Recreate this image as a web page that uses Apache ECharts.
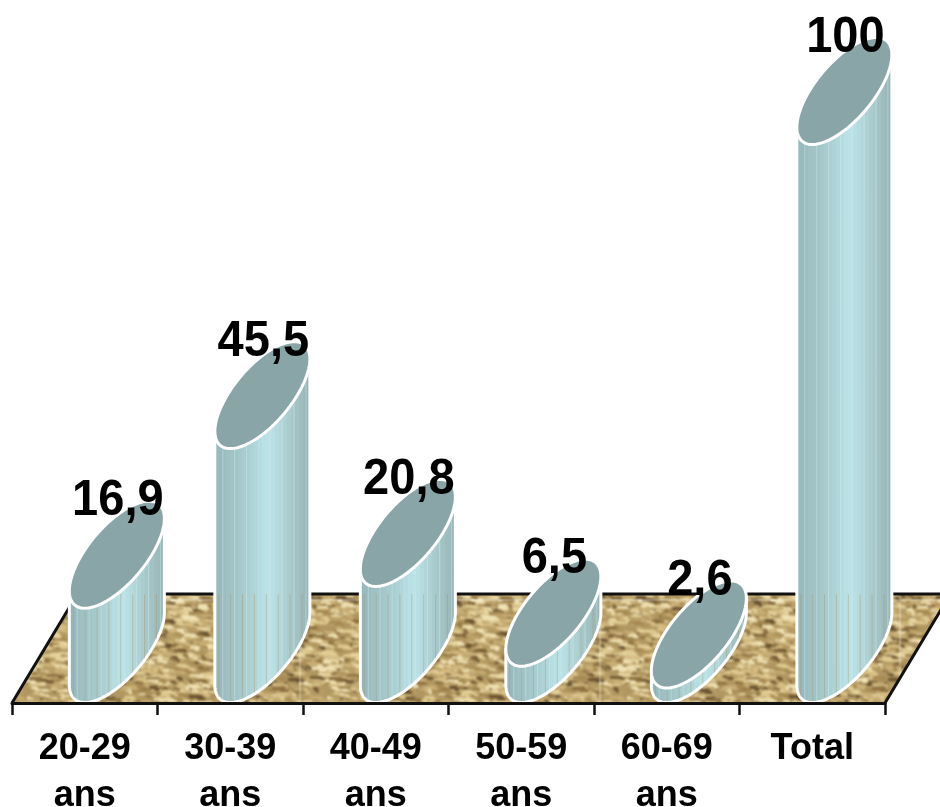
<!DOCTYPE html>
<html>
<head>
<meta charset="utf-8">
<style>html,body{margin:0;padding:0;background:#fff}#c{width:940px;height:807px}</style>
<script src="https://cdn.jsdelivr.net/npm/echarts@6/dist/echarts.min.js"></script>
</head>
<body>
<div id="c"></div>
<script>
// Age groups and their percentages
const categories = ['20-29\nans', '30-39\nans', '40-49\nans', '50-59\nans', '60-69\nans', 'Total'];
const values = [16.9, 45.5, 20.8, 6.5, 2.6, 100];

const FONT = '"Liberation Sans", Arial, sans-serif';
const FLOOR_TOP = 594, FLOOR_BOTTOM = 703, FLOOR_SHEAR = 0.6;
const ELL_H = 53.5;              // vertical half extent of a cylinder cap
const WIDTH_RATIO = 0.3265;      // half cylinder width, relative to the category band

// Small deterministic generator for the woven floor texture
let seed = 12345;
function rnd() { seed = (seed * 1664525 + 1013904223) >>> 0; return seed / 4294967296; }

function wovenTexture() {
  const S = 300, src = document.createElement('canvas');
  src.width = src.height = S;
  const g = src.getContext('2d');
  g.fillStyle = '#b09660'; g.fillRect(0, 0, S, S);
  const tones = ['#f0e2b4', '#e8d6a2', '#dfca90', '#d4bc82', '#c8ae74', '#b89e64', '#a68a52', '#8c7040', '#6a5230'];
  const stamp = (x, y, w, h) => {
    g.fillRect(x, y, w, h);
    g.fillRect(x - S, y, w, h);
    g.fillRect(x, y - S, w, h);
  };
  for (let i = 0; i < 4200; i++) {
    const x = rnd() * S, y = rnd() * S;
    const w = 4 + rnd() * 10, h = 1.6 + rnd() * 2.2;
    // light threads dominate, dark ones are sparser but still common
    g.fillStyle = tones[Math.floor(Math.pow(rnd(), 1.15) * tones.length)];
    // small stepped dash, giving the zigzag look of a coarse weave
    stamp(x, y, w, h);
    stamp(x + w * 0.6, y + h * 0.7, w * 0.6, h * 0.8);
  }
  const out = document.createElement('canvas');
  out.width = out.height = S;
  const o = out.getContext('2d');
  o.filter = 'blur(1px)';
  for (const ox of [-S, 0, S]) for (const oy of [-S, 0, S]) o.drawImage(src, ox, oy);
  return out;
}

// Banded side shading of the cylinder, from the left edge to the right edge
const BAND_COLORS = ['#94b4b8','#98b9bd','#9cbdc1','#9fc1c4','#a1c3c6','#a2c5c8','#a5c8cb','#a8cccf',
  '#abd0d3','#aed3d7','#b1d7da','#b5dce0','#b9e1e5','#bbe3e7','#b8dfe3','#b5dbde','#b2d6da','#aed1d4',
  '#aaccce','#a7c8ca','#a3c2c4','#9fbdbf','#9bb9ba','#97b5b6'];
const bandStops = [];
BAND_COLORS.forEach((c, i) => {
  bandStops.push({ offset: i / BAND_COLORS.length, color: c });
  bandStops.push({ offset: (i + 1) / BAND_COLORS.length, color: c });
});

// Cap outline: a circle lying on the sheared floor
function capPoint(cx, cy, r, t) {
  const s = FLOOR_SHEAR * ELL_H;
  return [cx + r * Math.cos(t) + s * Math.sin(t), cy - ELL_H * Math.sin(t)];
}
function arcPoints(cx, cy, r, from, to, n) {
  const pts = [];
  for (let i = 0; i <= n; i++) pts.push(capPoint(cx, cy, r, from + (to - from) * i / n));
  return pts;
}
// y of a sampled arc at a given x
function arcYAt(pts, x) {
  for (let i = 1; i < pts.length; i++) {
    const a = pts[i - 1], b = pts[i];
    if ((a[0] - x) * (b[0] - x) <= 0 && a[0] !== b[0]) {
      return a[1] + (b[1] - a[1]) * (x - a[0]) / (b[0] - a[0]);
    }
  }
  return pts[0][1];
}

function renderFloor(params, api) {
  const band = api.size([1, 0])[0];
  const left = api.coord([0, 0])[0] - band / 2;
  const right = api.coord([categories.length - 1, 0])[0] + band / 2;
  const dx = (FLOOR_BOTTOM - FLOOR_TOP) * FLOOR_SHEAR;
  return {
    type: 'group',
    children: [
      { type: 'polygon',
        shape: { points: [[left, FLOOR_BOTTOM], [left + dx, FLOOR_TOP], [right + dx, FLOOR_TOP], [right, FLOOR_BOTTOM]] },
        style: { fill: { image: texture, repeat: 'repeat' }, stroke: null } },
      { type: 'polyline',
        shape: { points: [[left, FLOOR_BOTTOM], [left + dx, FLOOR_TOP], [right + dx, FLOOR_TOP], [right, FLOOR_BOTTOM]] },
        style: { fill: null, stroke: '#111', lineWidth: 3 } }
    ]
  };
}

function renderCylinder(params, api) {
  const idx = api.value(0), val = api.value(1);
  const base = api.coord([idx, 0]), top = api.coord([idx, val]);
  const W = api.size([1, 0])[0] * WIDTH_RATIO;
  const s = FLOOR_SHEAR * ELL_H;
  const r = Math.sqrt(W * W - s * s);
  const tm = Math.atan2(s, r);
  const cx = base[0] + s;  // the cylinder stands mid-depth on the sheared floor

  const lowerBase = arcPoints(cx, base[1], r, tm + Math.PI, tm + 2 * Math.PI, 60);
  const lowerTop = arcPoints(cx, top[1], r, tm + Math.PI, tm + 2 * Math.PI, 60);
  const body = lowerBase.concat([capPoint(cx, top[1], r, tm), capPoint(cx, top[1], r, tm + Math.PI)]);

  const children = [{
    type: 'polygon',
    shape: { points: body },
    style: {
      fill: { type: 'linear', x: 0, y: 0, x2: 1, y2: 0, colorStops: bandStops },
      stroke: '#fff', lineWidth: 3
    }
  }];

  // Pale seams along the whole side
  for (let i = 2; i < BAND_COLORS.length; i += 3) {
    const x = cx - W + 2 * W * i / BAND_COLORS.length;
    const y0 = arcYAt(lowerTop, x);
    const y1 = arcYAt(lowerBase, x) - 1.5;
    if (y1 > y0) {
      children.push({
        type: 'line',
        shape: { x1: x, y1: y0, x2: x, y2: y1 },
        style: { stroke: 'rgba(205,232,235,0.45)', lineWidth: 1 }
      });
    }
  }
  // Faint tan seams, visible where the cylinder stands over the floor
  for (let i = 1; i < BAND_COLORS.length; i += 3) {
    const x = cx - W + 2 * W * i / BAND_COLORS.length;
    const y0 = Math.max(FLOOR_TOP, arcYAt(lowerTop, x));
    const y1 = arcYAt(lowerBase, x) - 1.5;
    if (y1 > y0) {
      children.push({
        type: 'line',
        shape: { x1: x, y1: y0, x2: x, y2: y1 },
        style: { stroke: 'rgba(165,145,105,0.4)', lineWidth: 1 }
      });
    }
  }

  children.push({
    type: 'polygon',
    shape: { points: arcPoints(cx, top[1], r, 0, 2 * Math.PI, 120) },
    style: { fill: '#8aa5a8', stroke: '#fff', lineWidth: 3 }
  });
  children.push({
    type: 'text',
    z2: 50,
    x: cx + 1, y: top[1] - 53,
    scaleY: 1.06,
    style: {
      text: String(val).replace('.', ','),
      x: 0, y: 0,
      align: 'center', verticalAlign: 'middle',
      font: 'bold 47px ' + FONT, fill: '#000'
    }
  });
  return { type: 'group', children };
}

const texture = wovenTexture();
const chart = echarts.init(document.getElementById('c'), null, { renderer: 'canvas' });
chart.setOption({
  animation: false,
  backgroundColor: '#fff',
  grid: { left: 12, right: 55, top: 91, bottom: 158, containLabel: false, outerBoundsMode: 'none' },
  xAxis: {
    type: 'category',
    data: categories,
    offset: 54,
    z: 10,
    axisLine: { show: true, onZero: false, lineStyle: { color: '#111', width: 3 } },
    axisTick: { show: true, length: 12, alignWithLabel: false, lineStyle: { color: '#111', width: 2.5 } },
    axisLabel: {
      interval: 0, margin: 23, color: '#000', fontFamily: FONT,
      fontWeight: 'bold', fontSize: 36, lineHeight: 47, verticalAlign: 'top'
    },
    splitLine: { show: false }
  },
  yAxis: { type: 'value', min: 0, max: 100, show: false, splitLine: { show: false } },
  series: [
    { type: 'custom', silent: true, clip: false, z: 1, renderItem: renderFloor, data: [[0, 0]], encode: { x: 0, y: 1 } },
    { type: 'custom', silent: true, clip: false, z: 2, renderItem: renderCylinder,
      data: values.map((v, i) => [i, v]), encode: { x: 0, y: 1 } }
  ]
});
</script>
</body>
</html>
